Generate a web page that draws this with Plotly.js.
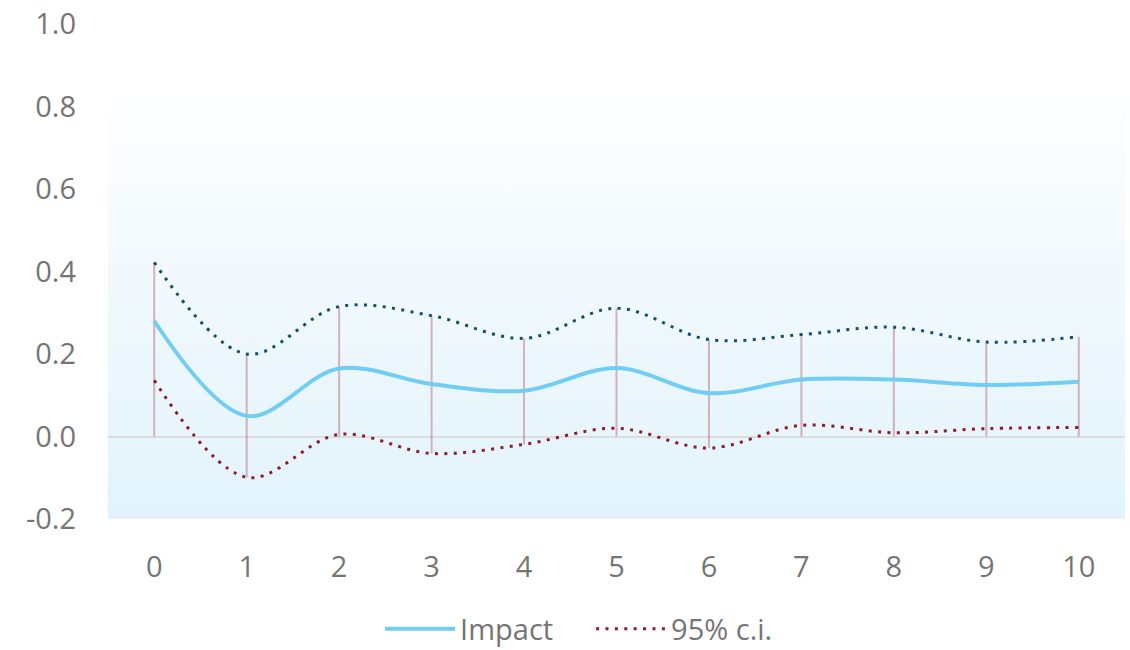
<!DOCTYPE html>
<html>
<head>
<meta charset="utf-8">
<script src="https://cdn.plot.ly/plotly-3.0.1.min.js"></script>
<style>html,body{margin:0;padding:0;background:#fff;}#chart{width:1130px;height:650px;}</style>
</head>
<body>
<div id="chart"></div>
<script>
const periods = [0,1,2,3,4,5,6,7,8,9,10];
const impact = [0.280,0.050,0.165,0.127,0.111,0.166,0.105,0.138,0.138,0.125,0.133];
const upper  = [0.422,0.200,0.315,0.293,0.238,0.311,0.235,0.247,0.265,0.229,0.242];
const lower  = [0.136,-0.099,0.005,-0.041,-0.019,0.020,-0.028,0.027,0.009,0.019,0.022];
const tickVals = [-0.2,0.0,0.2,0.4,0.6,0.8,1.0];
const tickText = ['-0.2','0.0','0.2','0.4','0.6','0.8','1.0'];

// vertical range lines: from the lower of (0, lower bound) up to the upper bound
const vx = [], vy = [];
periods.forEach((p,i)=>{ vx.push(p,p,null); vy.push(Math.min(0, lower[i]), upper[i], null); });

const svg = '<svg xmlns="http://www.w3.org/2000/svg" width="100" height="100" preserveAspectRatio="none">' +
  '<defs><linearGradient id="g" x1="0" y1="0" x2="0" y2="1">' +
  '<stop offset="0" stop-color="#fdfeff"/><stop offset="1" stop-color="#e2f3fb"/>' +
  '</linearGradient></defs><rect width="100" height="100" fill="url(#g)"/></svg>';
const bgUri = 'data:image/svg+xml;charset=utf-8,' + encodeURIComponent(svg);

const traces = [
  {x: vx, y: vy, mode:'lines', line:{color:'rgba(185,120,135,0.55)', width:2}, showlegend:false, hoverinfo:'skip'},
  {x: periods, y: upper, mode:'lines', line:{color:'#15506a', width:3, dash:'3px,6.4px', shape:'spline', smoothing:1}, showlegend:false, name:'upper'},
  {x: periods, y: lower, mode:'lines', line:{color:'#8e1b2a', width:3, dash:'3px,6.4px', shape:'spline', smoothing:1}, name:'95% c.i.'},
  {x: periods, y: impact, mode:'lines', line:{color:'#72cdf2', width:4, shape:'spline', smoothing:1}, name:'Impact'}
];

const layout = {
  width:1130, height:650,
  margin:{l:108, r:5, t:24, b:131, autoexpand:false},
  paper_bgcolor:'#ffffff', plot_bgcolor:'rgba(0,0,0,0)',
  font:{family:'"Open Sans", sans-serif', color:'#757575', size:29},
  xaxis:{range:[-0.5,10.5], tickvals:periods, ticktext:periods.map(String), showgrid:false, zeroline:false, showline:false, ticks:'', ticklabelstandoff:28, tickfont:{size:29,color:'#757575'}, fixedrange:true, automargin:false},
  yaxis:{range:[-0.2,1.0], tickvals:tickVals, ticktext:tickText, showgrid:false, zeroline:true, zerolinecolor:'#dcdcdc', zerolinewidth:2, showline:false, ticks:'', ticklabelstandoff:31, tickfont:{size:29,color:'#757575'}, fixedrange:true, automargin:false},
  images:[{source:bgUri, xref:'paper', yref:'y', x:0, y:0.83, sizex:1, sizey:1.03, sizing:'stretch', xanchor:'left', yanchor:'top', layer:'below'}],
  legend:{orientation:'h', x:0.475, xanchor:'center', y:-0.222, yanchor:'middle', traceorder:'reversed', font:{size:29,color:'#757575'}, itemwidth:70, entrywidth:126, entrywidthmode:'pixels', bgcolor:'rgba(0,0,0,0)'},
  showlegend:true
};

Plotly.newPlot('chart', traces, layout, {displayModeBar:false, staticPlot:true});
</script>
</body>
</html>
